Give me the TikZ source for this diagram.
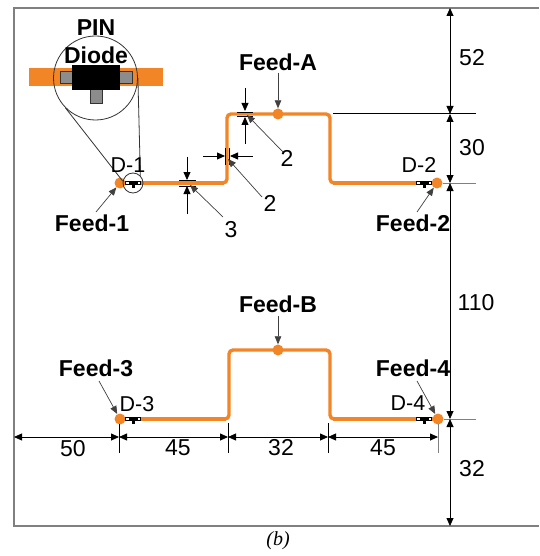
\documentclass[tikz,border=0pt]{standalone}
\usepackage{fontspec}
\setmainfont{Liberation Sans}
\newfontfamily\capfont{Liberation Serif}
\usetikzlibrary{arrows.meta}
\definecolor{strip}{HTML}{F28526}
\definecolor{frame}{HTML}{808080}
\definecolor{pad}{HTML}{8C8C8C}
\tikzset{
  x=1pt,y=-1pt,
  dim/.style={draw=black,line width=0.8pt,{Triangle[length=8pt,width=7pt]}-{Triangle[length=8pt,width=7pt]}},
  dimone/.style={draw=black,line width=0.8pt,-{Triangle[length=8pt,width=7pt]}},
  leader/.style={draw=black!75,line width=0.7pt,-{Triangle[length=8pt,width=6.5pt]}},
  tick/.style={draw=black,line width=0.8pt},
  gtick/.style={draw=frame,line width=0.9pt},
  lensline/.style={draw=black!80,line width=0.8pt},
  num/.style={inner sep=0pt,font=\fontsize{23}{26}\selectfont},
  dlab/.style={inner sep=0pt,font=\fontsize{21.5}{26}\selectfont},
  feed/.style={inner sep=0pt,font=\fontsize{23}{26}\selectfont\bfseries},
  wide/.style={draw=strip,line width=4.6pt},
  thin/.style={draw=strip,line width=3.4pt,rounded corners=4pt},
  dot/.style={circle,fill=strip,inner sep=0pt,minimum size=#1},
  diodepad/.style={fill=white,draw=black,line width=0.5pt},
}
\newcommand{\smalldiode}[2]{%
  \fill[diodepad] (#1-7.5,#2-1.5) rectangle (#1+7.5,#2+1.5);
  \fill[black] (#1-4.5,#2-2.5) rectangle (#1+4.5,#2+2);
  \fill[black] (#1-1.5,#2) rectangle (#1+1.5,#2+5);
}
\begin{document}
\begin{tikzpicture}
\useasboundingbox (0,0) rectangle (539,556);
\fill[white] (0,0) rectangle (539,556);
% frame
\draw[frame,line width=1.1pt] (539,8) -- (14,8) -- (14,526) -- (539,526);
% named points
\coordinate (top) at (450,8);
\coordinate (r1) at (450,114);
\coordinate (r2) at (450,183);
\coordinate (r3) at (450,419);
\coordinate (bot) at (450,526);
\coordinate (b0) at (14,437);
\coordinate (b1) at (119,437);
\coordinate (b2) at (228,437);
\coordinate (b3) at (328,437);
\coordinate (b4) at (438,437);
% strips
\draw[thin] (120,183) -- (227,183) -- (227,114) -- (330,114) -- (330,183) -- (437,183);
\draw[wide] (120,183) -- (224,183);
\draw[wide] (333,183) -- (437,183);
\draw[thin] (120,419) -- (229,419) -- (229,350) -- (330,350) -- (330,419) -- (437,419);
\draw[wide] (120,419) -- (226,419);
\draw[wide] (333,419) -- (437,419);
\node[dot=11pt] (f1) at (120,183) {};
\node[dot=11pt] (f2) at (437,183) {};
\node[dot=11pt] (f3) at (120,419) {};
\node[dot=11pt] (f4) at (438,419) {};
\node[dot=11pt] (fa) at (278,114) {};
\node[dot=11pt] (fb) at (278,350) {};
% diodes
\smalldiode{133}{183}
\smalldiode{424}{183}
\smalldiode{133}{419}
\smalldiode{424}{419}
% magnified view
\fill[strip] (29,68) rectangle (163,86);
\fill[pad,draw=black!80,line width=0.6pt] (60,71) rectangle (73,83);
\fill[pad,draw=black!80,line width=0.6pt] (119,71) rectangle (132,83);
\fill[pad,draw=black!80,line width=0.6pt] (90,89) rectangle (102,103);
\fill[black] (72,65) rectangle (120,90);
\node[circle,draw=black!80,line width=0.8pt,minimum size=84pt,inner sep=0pt] (lens) at (95.5,78) {};
\node[circle,draw=black!80,line width=0.8pt,minimum size=20pt,inner sep=0pt] (spot) at (133,183) {};
\draw[lensline] (lens.225) -- (spot.170);
\draw[lensline] (lens.east) -- (spot.north east);
% right dimension lines
\draw[tick] (333,113) -- (476,113);
\draw[gtick] (443,183) -- (476,183);
\draw[gtick] (444,419) -- (476,419);
\draw[dim] (top) -- (r1);
\draw[dim] (r1) -- (r2);
\draw[dim] (r2) -- (r3);
\draw[dim] (r3) -- (bot);
\node[num] (n52) at (472,58) {52};
\node[num] (n30) at (472,148) {30};
\node[num] (n110) at (476,303) {110};
\node[num] (n32r) at (472,469) {32};
% bottom dimension lines
\draw[tick] (119,424) -- (119,453);
\draw[tick] (228,423) -- (228,453);
\draw[tick] (328,423) -- (328,453);
\draw[gtick] (438,424) -- (438,453);
\draw[dim] (b0) -- (b1);
\draw[dim] (b1) -- (b2);
\draw[dim] (b2) -- (b3);
\draw[dim] (b3) -- (b4);
\node[num] (n50) at (73,449) {50};
\node[num] (n45a) at (178,448) {45};
\node[num] (n32b) at (281,448) {32};
\node[num] (n45b) at (383,448) {45};
% width marks: 3
\coordinate (w3a) at (187,157);
\coordinate (w3b) at (187,180);
\coordinate (w3c) at (187,214);
\coordinate (w3d) at (187,186);
\coordinate (w3s) at (223,217);
\coordinate (w3e) at (190,185);
\draw[tick] (179,180) -- (196,180);
\draw[tick] (179,186) -- (196,186);
\draw[dimone] (w3a) -- (w3b);
\draw[dimone] (w3c) -- (w3d);
\node[num] (n3) at (231,230) {3};
\draw[leader] (w3s) -- (w3e);
% width marks: 2 (vertical arm)
\coordinate (w2a) at (203,156);
\coordinate (w2b) at (225,156);
\coordinate (w2c) at (253,156);
\coordinate (w2d) at (230,156);
\coordinate (w2s) at (262,197);
\coordinate (w2t) at (228,159);
\draw[tick] (225.5,148) -- (225.5,165);
\draw[tick] (229,148) -- (229,165);
\draw[dimone] (w2a) -- (w2b);
\draw[dimone] (w2c) -- (w2d);
\node[num] (n2a) at (270,203) {2};
\draw[leader] (w2s) -- (w2t);
% width marks: 2 (top arm)
\coordinate (w2e) at (245,88);
\coordinate (w2f) at (245,111);
\coordinate (w2g) at (245,144);
\coordinate (w2h) at (245,117);
\coordinate (w2u) at (283,152);
\coordinate (w2v) at (247,115);
\draw[tick] (237,112) -- (253,112);
\draw[tick] (237,116) -- (253,116);
\draw[dimone] (w2e) -- (w2f);
\draw[dimone] (w2g) -- (w2h);
\node[num] (n2b) at (287,158) {2};
\draw[leader] (w2u) -- (w2v);
% labels
\node[feed] (pin) at (96,28) {PIN};
\node[feed] (diode) at (96,55) {Diode};
\node[dlab] (d1) at (128,165) {D-1};
\node[dlab] (d2) at (419,165) {D-2};
\node[dlab] (d3) at (137,404) {D-3};
\node[dlab] (d4) at (408,403) {D-4};
\node[feed] (l1) at (92,223) {Feed-1};
\node[feed] (l2) at (413,223) {Feed-2};
\node[feed] (l3) at (96,368) {Feed-3};
\node[feed] (l4) at (413,368) {Feed-4};
\node[feed] (la) at (278,62) {Feed-A};
\node[feed] (lb) at (278,304) {Feed-B};
\coordinate (s1) at (96,212);
\coordinate (s2) at (417,212);
\coordinate (s3) at (99,381);
\coordinate (s4) at (417,381);
\coordinate (sa) at (278,73);
\coordinate (sb) at (278,316);
\draw[leader] (s1) -- (f1);
\draw[leader] (s2) -- (f2);
\draw[leader] (s3) -- (f3);
\draw[leader] (s4) -- (f4);
\draw[leader] (sa) -- (fa);
\draw[leader] (sb) -- (fb);
\node[inner sep=0pt,font=\capfont\itshape\fontsize{20}{22}\selectfont] (cap) at (278,541) {(b)};
\end{tikzpicture}
\end{document}
